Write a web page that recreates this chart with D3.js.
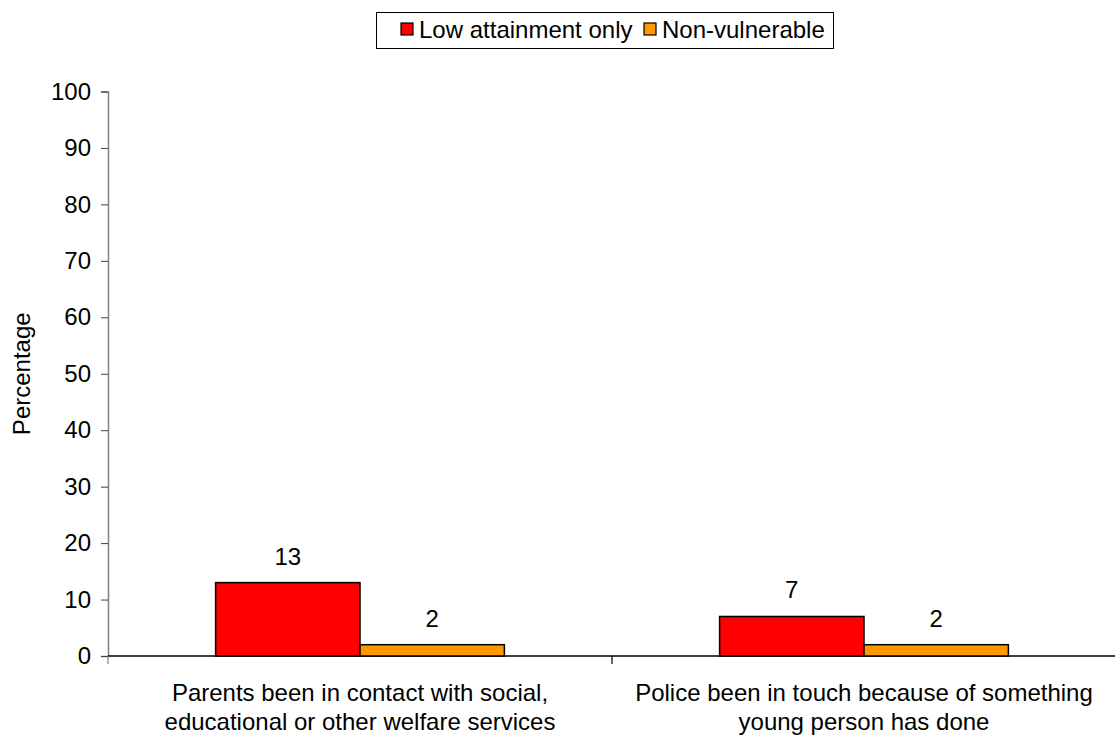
<!DOCTYPE html>
<html>
<head>
<meta charset="utf-8">
<script src="https://cdn.jsdelivr.net/npm/d3@7"></script>
<style>
  html, body { margin: 0; padding: 0; background: #fff; }
  svg { display: block; font-family: "Liberation Sans", Arial, sans-serif; }
</style>
</head>
<body>
<svg id="chart" width="1115" height="740"></svg>
<script>
const categories = [
  ["Parents been in contact with social,", "educational or other welfare services"],
  ["Police been in touch because of something", "young person has done"]
];
const seriesNames = ["Low attainment only", "Non-vulnerable"];
const lowAttainment = [13, 7];
const nonVulnerable = [2, 2];
const yTicks = [0, 10, 20, 30, 40, 50, 60, 70, 80, 90, 100];
const colors = ["#FF0000", "#FF9900"];

const svg = d3.select("#chart");
const fs = 24;

const y = d3.scaleLinear().domain([0, 100]).range([656, 91.5]);
const catKeys = categories.map((c, i) => i);
const x0 = d3.scaleBand().domain(catKeys).range([108, 1116]).paddingInner(0).paddingOuter(0);
const groupFrac = 0.573;
const x1 = d3.scaleBand().domain([0, 1])
  .range([x0.bandwidth() * (1 - groupFrac) / 2, x0.bandwidth() * (1 + groupFrac) / 2])
  .padding(0);

const series = [lowAttainment, nonVulnerable];

// Y axis
const yAxis = d3.axisLeft(y).tickValues(yTicks).tickSize(7).tickPadding(10).tickFormat(d3.format("d"));
const gy = svg.append("g").attr("transform", "translate(108,0)").call(yAxis);
gy.select(".domain").attr("stroke", "#808080").attr("stroke-width", 1.5);
gy.selectAll(".tick line").attr("stroke", "#404040");
gy.selectAll(".tick text").attr("font-size", fs).attr("fill", "#000").attr("font-family", "Liberation Sans, Arial, sans-serif");

// X axis
const xAxisG = svg.append("g").attr("transform", "translate(0,656)");
xAxisG.append("line").attr("x1", 108).attr("x2", 1115).attr("y1", 0).attr("y2", 0)
  .attr("stroke", "#000").attr("stroke-width", 1.5);
const boundaries = [x0(0), x0(1)];
xAxisG.selectAll("line.xt").data(boundaries).enter().append("line")
  .attr("class", "xt")
  .attr("x1", d => d).attr("x2", d => d).attr("y1", 0).attr("y2", 8)
  .attr("stroke", d => d === 108 ? "#808080" : "#000").attr("stroke-width", 1.2);

// Category labels
const catG = svg.append("g");
categories.forEach((lines, i) => {
  const cx = x0(i) + x0.bandwidth() / 2;
  const t = catG.append("text").attr("text-anchor", "middle").attr("font-size", fs).attr("fill", "#000");
  lines.forEach((ln, j) => {
    t.append("tspan").attr("x", cx).attr("y", 701 + j * 29).text(ln);
  });
});

// Bars
const groups = svg.append("g").selectAll("g").data(catKeys).enter().append("g")
  .attr("transform", d => `translate(${x0(d)},0)`);
groups.selectAll("rect").data(d => series.map((s, k) => ({ k, v: s[d] }))).enter().append("rect")
  .attr("x", d => x1(d.k))
  .attr("y", d => y(d.v))
  .attr("width", x1.bandwidth())
  .attr("height", d => y(0) - y(d.v))
  .attr("fill", d => colors[d.k])
  .attr("stroke", "#000")
  .attr("stroke-width", 1.5);
groups.selectAll("text").data(d => series.map((s, k) => ({ k, v: s[d] }))).enter().append("text")
  .attr("x", d => x1(d.k) + x1.bandwidth() / 2)
  .attr("y", d => y(d.v) - 18)
  .attr("text-anchor", "middle")
  .attr("font-size", fs)
  .attr("fill", "#000")
  .text(d => d.v);

// Y label
svg.append("text")
  .attr("transform", `translate(30,${(656 + 91.5) / 2}) rotate(-90)`)
  .attr("text-anchor", "middle")
  .attr("font-size", fs)
  .attr("fill", "#000")
  .text("Percentage");

// Legend
const lg = svg.append("g");
lg.append("rect").attr("x", 376.5).attr("y", 12.5).attr("width", 457).attr("height", 36)
  .attr("fill", "#fff").attr("stroke", "#000").attr("stroke-width", 1);
const legendItems = [{ x: 401, tx: 419 }, { x: 644, tx: 662 }];
seriesNames.forEach((n, i) => {
  lg.append("rect").attr("x", legendItems[i].x).attr("y", 23).attr("width", 12).attr("height", 12)
    .attr("fill", colors[i]).attr("stroke", "#000").attr("stroke-width", 1.2);
  lg.append("text").attr("x", legendItems[i].tx).attr("y", 38).attr("font-size", fs).attr("fill", "#000").text(n);
});
</script>
</body>
</html>
